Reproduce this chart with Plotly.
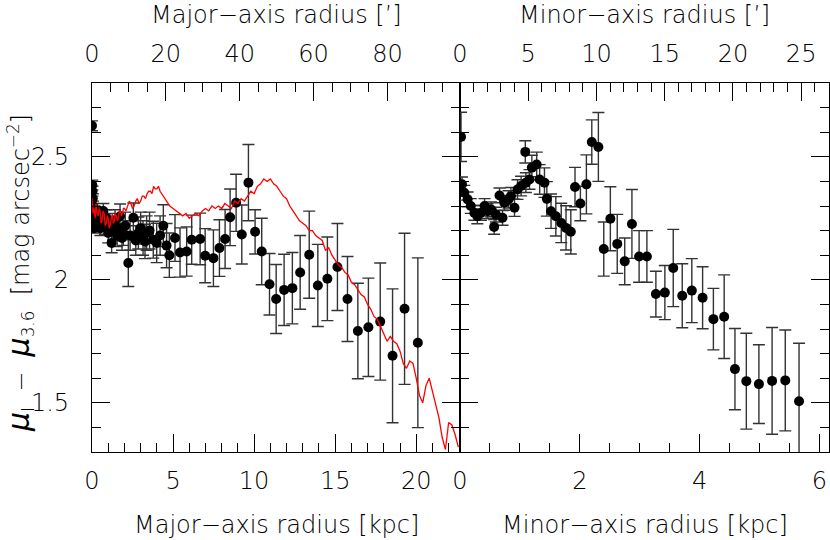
import plotly.graph_objects as go

# Major-axis colour profile (points with errors)
maj_kpc = [0.00, 0.02, 0.03, 0.05, 0.06, 0.08, 0.10, 0.12, 0.15, 0.20, 0.25, 0.30, 0.38, 0.45,
           0.52, 0.60, 0.70, 0.80, 0.90, 1.00, 1.10, 1.21, 1.30, 1.42, 1.55, 1.65, 1.73, 1.85,
           1.93, 2.05, 2.24, 2.35, 2.55, 2.70, 2.86, 3.00, 3.15, 3.27, 3.37, 3.55, 3.78, 3.99,
           4.20, 4.40, 4.60, 4.77, 5.12, 5.43, 5.84, 6.15, 6.67, 6.98, 7.49, 7.86, 8.21, 8.52,
           8.89, 9.24, 9.65, 10.06, 10.47, 10.95, 11.36, 11.85, 12.36, 12.84, 13.40, 13.93,
           14.52, 15.14, 15.76, 16.40, 17.05, 17.78, 18.54, 19.28, 20.10]
maj_mu = [2.626, 2.385, 2.36, 2.33, 2.30, 2.27, 2.24, 2.21, 2.28, 2.25, 2.22, 2.27, 2.24, 2.26,
          2.21, 2.24, 2.28, 2.22, 2.25, 2.19, 2.23, 2.15, 2.20, 2.24, 2.18, 2.21, 2.258, 2.17,
          2.19, 2.22, 2.068, 2.18, 2.252, 2.16, 2.19, 2.21, 2.17, 2.156, 2.19, 2.20, 2.163, 2.15,
          2.18, 2.22, 2.139, 2.10, 2.17, 2.111, 2.115, 2.163, 2.166, 2.098, 2.088, 2.129, 2.166,
          2.254, 2.313, 2.184, 2.395, 2.195, 2.115, 1.982, 1.922, 1.959, 1.966, 2.03, 2.102,
          1.977, 2.004, 2.052, 1.922, 1.792, 1.807, 1.83, 1.691, 1.882, 1.744]
maj_err = [0.02, 0.02, 0.02, 0.02, 0.02, 0.02, 0.02, 0.02, 0.02, 0.02, 0.025, 0.025, 0.03, 0.03,
           0.03, 0.03, 0.03, 0.035, 0.035, 0.04, 0.04, 0.04, 0.04, 0.045, 0.045, 0.05, 0.05, 0.05,
           0.05, 0.055, 0.095, 0.06, 0.06, 0.06, 0.065, 0.065, 0.07, 0.07, 0.07, 0.075, 0.075, 0.08,
           0.08, 0.085, 0.09, 0.09, 0.095, 0.10, 0.10, 0.10, 0.105, 0.11, 0.115, 0.115, 0.12,
           0.115, 0.116, 0.12, 0.155, 0.09, 0.135, 0.125, 0.14, 0.145, 0.145, 0.15, 0.177,
           0.167, 0.17, 0.177, 0.173, 0.194, 0.20, 0.238, 0.272, 0.307, 0.345]

# Comparison profile along the major axis (red line)
red_kpc = [0.0, 0.06, 0.12, 0.19, 0.25, 0.31, 0.38, 0.44, 0.5, 0.56, 0.62, 0.69, 0.75, 0.81, 0.88,
           0.94, 1.0, 1.06, 1.12, 1.19, 1.25, 1.31, 1.38, 1.44, 1.5, 1.56, 1.62, 1.69, 1.75, 1.81,
           1.88, 1.94, 2.0, 2.1, 2.2, 2.3, 2.4, 2.5, 2.6, 2.7, 2.8, 2.9, 3.0, 3.1, 3.2, 3.3, 3.4,
           3.5, 3.6, 3.7, 3.8, 3.9, 4.0, 4.1, 4.2, 4.3, 4.4, 4.6, 4.8, 5.0, 5.2, 5.4,
           5.6, 5.8, 6.0, 6.2, 6.4, 6.6, 6.8, 7.0, 7.2, 7.4, 7.6, 7.8, 8.0, 8.2, 8.4, 8.6, 8.8, 9.0,
           9.2, 9.4, 9.6, 9.8, 10.0, 10.2, 10.4, 10.6, 10.8, 11.0, 11.2, 11.4, 11.6, 11.8, 12.0,
           12.2, 12.4, 12.6, 12.8, 13.0, 13.2, 13.4, 13.6, 13.8, 14.0, 14.2, 14.4, 14.6, 14.8, 15.0,
           15.2, 15.4, 15.6, 15.8, 16.0, 16.2, 16.4, 16.6, 16.8, 17.0, 17.2, 17.4, 17.6, 17.8, 18.0,
           18.2, 18.4, 18.6, 18.8, 19.0, 19.2, 19.4, 19.6, 19.8, 20.0, 20.2, 20.4, 20.6, 20.8, 21.0,
           21.2, 21.4, 21.6, 21.8, 22.0, 22.2, 22.4, 22.6]
red_mu = [2.33, 2.27, 2.29, 2.25, 2.31, 2.27, 2.26, 2.29, 2.28, 2.23, 2.24, 2.28, 2.27, 2.22,
          2.23, 2.26, 2.25, 2.21, 2.22, 2.26, 2.27, 2.23, 2.24, 2.27, 2.26, 2.24, 2.25, 2.28,
          2.28, 2.26, 2.27, 2.29, 2.29, 2.28, 2.30, 2.32, 2.31, 2.29, 2.30, 2.32, 2.33, 2.31,
          2.32, 2.34, 2.34, 2.33, 2.35, 2.36, 2.36, 2.35, 2.38, 2.37, 2.37, 2.38, 2.36, 2.35,
          2.34, 2.32, 2.30, 2.29,
          2.28, 2.27, 2.26, 2.27, 2.25, 2.26, 2.27, 2.26, 2.28, 2.29, 2.28, 2.30, 2.29, 2.30, 2.29, 2.31,
          2.30, 2.29, 2.32, 2.31, 2.33, 2.32, 2.34, 2.36, 2.35, 2.38, 2.39, 2.41, 2.40, 2.41, 2.39, 2.38,
          2.36, 2.34, 2.33, 2.30, 2.28, 2.26, 2.24, 2.23, 2.22, 2.20, 2.20, 2.18, 2.17, 2.16, 2.12, 2.13,
          2.10, 2.08, 2.06, 2.05, 2.03, 2.02, 1.99, 1.98, 1.96, 1.94, 1.93, 1.90, 1.88, 1.85, 1.84, 1.81,
          1.78, 1.75, 1.77, 1.75, 1.74, 1.71, 1.66, 1.64, 1.67, 1.66, 1.60, 1.53, 1.50, 1.57, 1.60, 1.55,
          1.49, 1.44, 1.36, 1.31, 1.42, 1.41, 1.37, 1.32]

# Minor-axis colour profile
min_kpc = [0.017, 0.033, 0.072, 0.127, 0.18, 0.24, 0.29, 0.35, 0.41, 0.46, 0.52, 0.57, 0.60, 0.66,
           0.71, 0.74, 0.81, 0.85, 0.91, 0.96, 1.02, 1.09, 1.10, 1.16, 1.20, 1.28, 1.33, 1.41, 1.45,
           1.52, 1.60, 1.69, 1.77, 1.85, 1.92, 2.01, 2.11, 2.20, 2.31, 2.40, 2.51, 2.625, 2.75, 2.87,
           2.99, 3.12, 3.27, 3.42, 3.56, 3.71, 3.87, 4.05, 4.23, 4.41, 4.59, 4.78, 4.99, 5.21, 5.43,
           5.66]
min_mu = [2.581, 2.388, 2.354, 2.327, 2.30, 2.272, 2.258, 2.272, 2.30, 2.279, 2.286, 2.215, 2.265,
          2.343, 2.252, 2.313, 2.327, 2.34, 2.293, 2.367, 2.381, 2.52, 2.395, 2.408, 2.456, 2.469,
          2.408, 2.395, 2.329, 2.279, 2.258, 2.231, 2.211, 2.195, 2.377, 2.31, 2.388, 2.56, 2.54,
          2.125, 2.248, 2.146, 2.075, 2.227, 2.095, 2.095, 1.942, 1.948, 2.048, 1.935, 1.956, 1.927,
          1.84, 1.85, 1.637, 1.588, 1.576, 1.589, 1.591, 1.506]
min_err = [0.10, 0.03, 0.03, 0.03, 0.03, 0.03, 0.03, 0.03, 0.03, 0.03, 0.03, 0.03, 0.03, 0.03,
           0.03, 0.03, 0.035, 0.035, 0.035, 0.04, 0.04, 0.045, 0.04, 0.04, 0.05, 0.05, 0.06, 0.06,
           0.07, 0.07, 0.08, 0.08, 0.09, 0.09, 0.08, 0.07, 0.12, 0.09, 0.14, 0.11, 0.13, 0.12, 0.095,
           0.14, 0.105, 0.105, 0.093, 0.11, 0.157, 0.13, 0.13, 0.126, 0.125, 0.17, 0.165, 0.195,
           0.16, 0.217, 0.205, 0.236]

ARCMIN_PER_KPC = 4.39
MAJ_MAX = 22.7
MIN_MAX = 6.16

FONT = "DejaVu Sans"
TXT = dict(family=FONT, size=24, color="black", weight=200)
SPLIT = 368 / 737

fig = go.Figure()

err_style = dict(type="data", color="#333333", thickness=1.4, width=6)

fig.add_trace(go.Scatter(x=maj_kpc, y=maj_mu, mode="markers",
                         marker=dict(color="black", size=10),
                         error_y=dict(array=maj_err, **err_style),
                         xaxis="x", yaxis="y"))
fig.add_trace(go.Scatter(x=red_kpc, y=red_mu, mode="lines",
                         line=dict(color="red", width=1.3),
                         xaxis="x", yaxis="y"))
fig.add_trace(go.Scatter(x=min_kpc, y=min_mu, mode="markers",
                         marker=dict(color="black", size=10),
                         error_y=dict(array=min_err, **err_style),
                         xaxis="x2", yaxis="y2"))

ax_common = dict(showline=True, linecolor="black", linewidth=1.2, ticks="inside",
                 tickcolor="black", tickwidth=1.2, ticklen=18, showgrid=False,
                 zeroline=False, tickfont=TXT, automargin=False)


def minor(d):
    return dict(dtick=d, ticks="inside", ticklen=9, tickcolor="black", tickwidth=1.2,
                showgrid=False)


fig.update_layout(
    width=830, height=540,
    margin=dict(l=92, r=1, t=83, b=88),
    plot_bgcolor="white", paper_bgcolor="white",
    showlegend=False,
    font=TXT,
    xaxis=dict(domain=[0, SPLIT], range=[0, MAJ_MAX], dtick=5, tick0=0, minor=minor(1),
               anchor="y", ticklabelstandoff=7, **ax_common),
    xaxis2=dict(domain=[SPLIT, 1], range=[0, MIN_MAX], dtick=2, tick0=0, minor=minor(0.5),
                anchor="y2", ticklabelstandoff=7, **ax_common),
    xaxis3=dict(overlaying="x", side="top", anchor="y", range=[0, MAJ_MAX * ARCMIN_PER_KPC],
                dtick=20, tick0=0, minor=minor(5), ticklabelstandoff=10, **ax_common),
    xaxis4=dict(overlaying="x2", side="top", anchor="y2", range=[0, MIN_MAX * ARCMIN_PER_KPC],
                dtick=5, tick0=0, minor=minor(1), ticklabelstandoff=10, **ax_common),
    yaxis=dict(domain=[0, 1], range=[1.3, 2.8], dtick=0.5, tick0=0, minor=minor(0.1),
               anchor="x", mirror="ticks", tickvals=[1.5, 2, 2.5], ticktext=["1.5", "2", "2.5"],
               ticklabelstandoff=17, **ax_common),
    yaxis2=dict(domain=[0, 1], matches="y", anchor="x2", mirror="ticks", dtick=0.5,
                minor=minor(0.1), showticklabels=False, **ax_common),
)

# empty traces so the top axes are drawn
fig.add_trace(go.Scatter(x=[None], y=[None], xaxis="x3", yaxis="y", showlegend=False))
fig.add_trace(go.Scatter(x=[None], y=[None], xaxis="x4", yaxis="y2", showlegend=False))

MU = '<span style="font-size:30px"><i>\u03bc</i></span>'
titles = [
    ("Major\u2212axis radius [kpc]", SPLIT / 2, -0.198, 0),
    ("Minor\u2212axis radius [kpc]", (SPLIT + 1) / 2, -0.198, 0),
    ("Major\u2212axis radius [\u2019]", SPLIT / 2, 1.183, 0),
    ("Minor\u2212axis radius [\u2019]", (SPLIT + 1) / 2, 1.183, 0),
    (MU + "<sub>I</sub>  \u2212  " + MU + "<sub>3.6</sub>  [mag arcsec<sup>\u22122</sup>]",
     -0.099, 0.485, -90),
]
for text, x, y, ang in titles:
    fig.add_annotation(text=text, x=x, y=y, xref="paper", yref="paper",
                       xanchor="center", yanchor="middle", showarrow=False,
                       textangle=ang, font=TXT)

# the page's default body margin would shift the 830x540 figure
fig.write_html("out.html", config={"displayModeBar": False},
               post_script="document.body.style.margin='0';document.body.style.overflow='hidden';")
